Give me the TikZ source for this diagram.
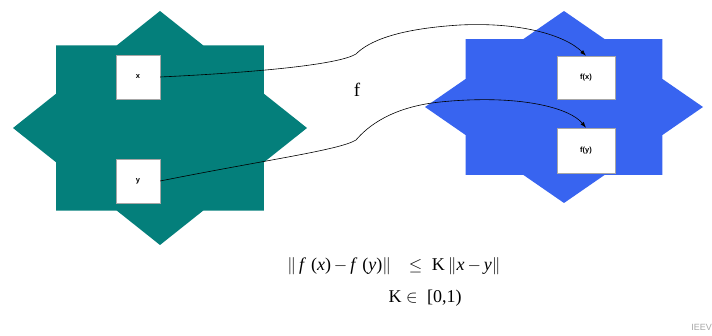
\documentclass[tikz,border=0pt]{standalone}
\usepackage{fontspec}
\setmainfont{Liberation Serif}
\newfontfamily\boxfont{Liberation Sans}
\usetikzlibrary{arrows.meta}
\definecolor{domainteal}{HTML}{047F7B}
\definecolor{rangeblue}{HTML}{3864F0}
\tikzset{
  point/.style={draw=gray!70, fill=white, inner sep=0pt,
    font=\boxfont\bfseries\fontsize{7.5}{8}\selectfont},
  mapsto/.style={-{Latex[length=6pt,width=4pt]}, line width=0.6pt},
}

\begin{document}
\begin{tikzpicture}[x=1pt,y=-1pt]
  \useasboundingbox (0,0) rectangle (712,336);
  % the two eight-pointed sets
  \fill[domainteal, shift={(160,128)}, xscale=147, yscale=117]
    (0:1) \foreach \k in {0,...,7} { -- ({\k*45+22.5}:0.7654) -- ({\k*45+45}:1) } -- cycle;
  \fill[rangeblue, shift={(564,107)}, xscale=139, yscale=96]
    (0:1) \foreach \k in {0,...,7} { -- ({\k*45+22.5}:0.7654) -- ({\k*45+45}:1) } -- cycle;

  % points and images
  \node[point, minimum width=44pt, minimum height=44pt] (x) at (138,77) {x};
  \node[point, minimum width=44pt, minimum height=44pt] (y) at (138,181) {y};
  \node[point, minimum width=58pt, minimum height=43pt] (fx) at (586,77.5) {f(x)};
  \node[point, minimum width=58pt, minimum height=45pt] (fy) at (586,150.5) {f(y)};

  \draw[mapsto] (x.east) .. controls (265,72) and (340,64) .. (356,54)
    .. controls (368,42) and (395,29) .. (460,25)
    .. controls (520,22) and (565,35) .. (fx.north);
  \draw[mapsto] (y.east) .. controls (265,160) and (340,150) .. (356,140)
    .. controls (368,126) and (392,107) .. (440,102)
    .. controls (520,94) and (570,108) .. (fy.north);
  \node[font=\fontsize{19}{20}\selectfont] (f) at (357,90) {f};

  % contraction condition
  \node[font=\fontsize{18}{18}\selectfont] (lip) at (394,266)
    {$\|$\,\textit{f}\;(\textit{x})$\,-\,$\textit{f}\;(\textit{y})$\|$\quad$\leq$\; K\,$\|$\textit{x}\,$-$\,\textit{y}$\|$};
  \node[font=\fontsize{18}{18}\selectfont] (krange) at (425,298) {K $\in$ \;[0,1)};
  \node[font=\boxfont\fontsize{9}{10}\selectfont, text=gray!70, anchor=east, inner sep=0pt]
    (src) at (712,327) {IEEV};
\end{tikzpicture}
\end{document}
